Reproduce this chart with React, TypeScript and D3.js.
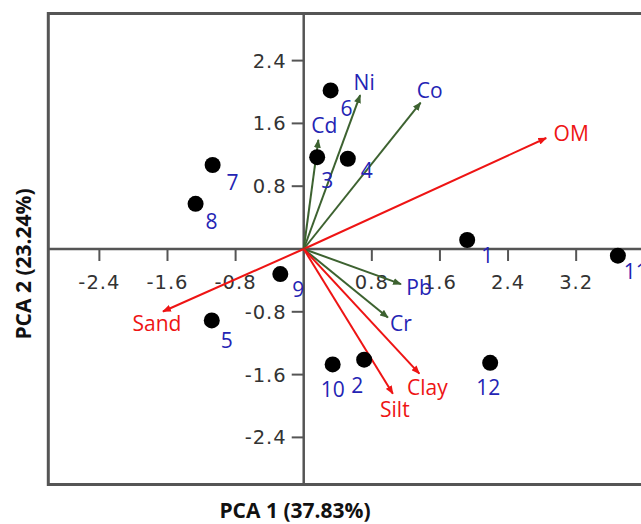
import React from "react";
import * as d3 from "d3";

// Sample scores (PCA1, PCA2)
const sampleIds = ["1", "2", "3", "4", "5", "6", "7", "8", "9", "10", "11", "12"];
const sampleX = [1.92, 0.71, 0.158, 0.518, -1.08, 0.316, -1.07, -1.27, -0.275, 0.34, 3.69, 2.19];
const sampleY = [0.115, -1.41, 1.17, 1.15, -0.91, 2.02, 1.07, 0.575, -0.32, -1.47, -0.085, -1.45];
// label offsets (px) of sample labels, relative to the point
const sampleLabelDx = [20, -7, 10, 19, 15, 16, 20, 16, 18, 0, 18, -2];
const sampleLabelDy = [16, 26, 23, 12, 20, 18, 17, 18, 15, 25, 16, 25];

// Variable loadings
const varNames = ["Cd", "Ni", "Co", "OM", "Pb", "Cr", "Clay", "Silt", "Sand"];
const varX = [0.172, 0.663, 1.373, 2.848, 1.143, 0.989, 1.358, 1.047, -1.653];
const varY = [1.39, 1.96, 1.865, 1.414, -0.447, -0.873, -1.588, -1.843, -0.796];
const varGroup = ["metal", "metal", "metal", "soil", "metal", "metal", "soil", "soil", "soil"];
const varLabelDx = [6, 4, 9, 25, 18, 13, 8, 2, -6];
const varLabelDy = [-14, -13, -12, -5, 3, 6, 14, 16, 12];

const xTicks = [-2.4, -1.6, -0.8, 0.8, 1.6, 2.4, 3.2];
const yTicks = [2.4, 1.6, 0.8, -0.8, -1.6, -2.4];
const xTitle = "PCA 1 (37.83%)";
const yTitle = "PCA 2 (23.24%)";

const W = 641;
const H = 524;
const BLUE = "#2424b4";
const RED = "#ee1414";
const GREEN = "#3d6230";
const AXIS = "#555";

export default function App() {
  const x = d3.scaleLinear().domain([-3, 4.2]).range([48.3, 661.3]);
  const y = d3.scaleLinear().domain([-3, 3]).range([484.5, 13.5]);
  const x0 = x(0);
  const y0 = y(0);
  const fmt = (t: number) => t.toFixed(1);
  const font = "'Open Sans', sans-serif";
  const tickFont = "'DejaVu Sans', sans-serif";

  return (
    <svg
      width={W}
      height={H}
      style={{ position: "absolute", left: 0, top: 0, background: "#fff" }}
    >
      <defs>
        <marker id="arrG" viewBox="0 0 10 8" refX="9" refY="4" markerWidth="9" markerHeight="7" markerUnits="userSpaceOnUse" orient="auto">
          <path d="M0,0 L10,4 L0,8 z" fill={GREEN} />
        </marker>
        <marker id="arrR" viewBox="0 0 10 8" refX="9" refY="4" markerWidth="9" markerHeight="7" markerUnits="userSpaceOnUse" orient="auto">
          <path d="M0,0 L10,4 L0,8 z" fill={RED} />
        </marker>
      </defs>

      {/* frame */}
      <rect x={48.3} y={13.5} width={700} height={471} fill="none" stroke={AXIS} strokeWidth={3} />

      {/* axes through origin */}
      <line x1={48.3} x2={W} y1={y0} y2={y0} stroke={AXIS} strokeWidth={2.5} />
      <line x1={x0} x2={x0} y1={13.5} y2={484.5} stroke={AXIS} strokeWidth={2.5} />

      {/* x ticks */}
      {xTicks.map((t) => (
        <g key={"xt" + t}>
          <line x1={x(t)} x2={x(t)} y1={y0} y2={y0 + 12} stroke={AXIS} strokeWidth={2} />
          <text x={x(t)} y={y0 + 40} textAnchor="middle" fontFamily={tickFont} fontSize={19.5} letterSpacing={1} fill="#333">
            {fmt(t)}
          </text>
        </g>
      ))}
      {/* y ticks */}
      {yTicks.map((t) => (
        <g key={"yt" + t}>
          <line x1={x0 - 12} x2={x0} y1={y(t)} y2={y(t)} stroke={AXIS} strokeWidth={2} />
          <text x={x0 - 17} y={y(t) + 7} textAnchor="end" fontFamily={tickFont} fontSize={19.5} letterSpacing={1} fill="#333">
            {fmt(t)}
          </text>
        </g>
      ))}

      {/* loading vectors */}
      {varNames.map((n, i) => {
        const col = varGroup[i] === "metal" ? GREEN : RED;
        return (
          <line
            key={"v" + n}
            x1={x0}
            y1={y0}
            x2={x(varX[i])}
            y2={y(varY[i])}
            stroke={col}
            strokeWidth={2}
            markerEnd={varGroup[i] === "metal" ? "url(#arrG)" : "url(#arrR)"}
          />
        );
      })}
      {varNames.map((n, i) => (
        <text
          key={"vl" + n}
          x={x(varX[i]) + varLabelDx[i]}
          y={y(varY[i]) + varLabelDy[i] + 7.5}
          textAnchor="middle"
          fontFamily={font}
          fontSize={21}
          fill={varGroup[i] === "metal" ? BLUE : RED}
        >
          {n}
        </text>
      ))}

      {/* sample points */}
      {sampleIds.map((id, i) => (
        <circle key={"p" + id} cx={x(sampleX[i])} cy={y(sampleY[i])} r={8} fill="#000" />
      ))}
      {sampleIds.map((id, i) => (
        <text
          key={"pl" + id}
          x={x(sampleX[i]) + sampleLabelDx[i]}
          y={y(sampleY[i]) + sampleLabelDy[i] + 7.5}
          textAnchor="middle"
          fontFamily={font}
          fontSize={21}
          fill={BLUE}
        >
          {id}
        </text>
      ))}

      {/* axis titles */}
      <text x={295} y={517.5} textAnchor="middle" fontFamily={font} fontWeight="bold" fontSize={21} fill="#111">
        {xTitle}
      </text>
      <text
        transform={`translate(31,264) rotate(-90)`}
        textAnchor="middle"
        fontFamily={font}
        fontWeight="bold"
        fontSize={21}
        fill="#111"
      >
        {yTitle}
      </text>
    </svg>
  );
}
